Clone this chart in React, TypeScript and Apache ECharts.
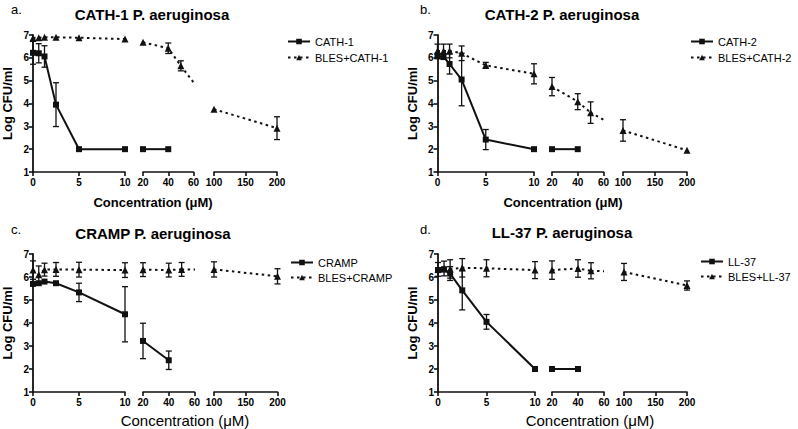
import React, { useEffect, useRef } from "react";
import * as echarts from "echarts";

const FONT = "Arial, 'Liberation Sans', Helvetica, sans-serif";
const INK = "#111";

// concentrations (µM)
const CONC = [0, 0.625, 1.25, 2.5, 5, 10, 20, 40, 50, 100, 200];

// x-axis segments of the broken axis
const SEG_MIN = [0, 20, 100];
const SEG_MAX = [10, 60, 200];
const SEG_INTERVAL = [5, 20, 50];

// y axis
const Y_MIN = 1;
const Y_MAX = 7;

// panel a
const cath1Mean = [6.22, 6.2, 6.06, 3.95, 2.0, 2.0, 2.0, 2.0, null, null, null];
const cath1Err = [0.5, 0.42, 0.47, 0.96, 0, 0, 0, 0, 0, 0, 0];
const blesCath1Mean = [6.87, 6.88, 6.9, 6.9, 6.88, 6.82, 6.68, 6.42, 5.65, 3.75, 2.92];
const blesCath1Err = [0, 0, 0, 0, 0, 0, 0, 0.23, 0.22, 0, 0.5];

// panel b
const cath2Mean = [6.08, 6.05, 5.73, 5.05, 2.42, 2.0, 2.0, 2.0, null, null, null];
const cath2Err = [0.12, 0.12, 0.44, 1.15, 0.44, 0, 0, 0, 0, 0, 0];
const blesCath2Mean = [6.3, 6.3, 6.3, 6.2, 5.67, 5.3, 4.74, 4.08, 3.6, 2.82, 1.95];
const blesCath2Err = [0.3, 0.3, 0.3, 0.32, 0.13, 0.44, 0.4, 0.35, 0.47, 0.47, 0];

// panel c
const crampMean = [5.7, 5.73, 5.8, 5.73, 5.33, 4.38, 3.22, 2.38, null, null, null];
const crampErr = [0, 0, 0, 0, 0.4, 1.2, 0.77, 0.4, 0, 0, 0];
const blesCrampMean = [6.3, 6.1, 6.32, 6.33, 6.32, 6.3, 6.32, 6.3, 6.33, 6.33, 6.03];
const blesCrampErr = [0.4, 0.38, 0.28, 0.3, 0.32, 0.32, 0.3, 0.3, 0.3, 0.33, 0.33];

// panel d
const ll37Mean = [6.3, 6.33, 6.15, 5.42, 4.05, 2.0, 2.0, 2.0, null, null, null];
const ll37Err = [0.1, 0.1, 0.3, 0.85, 0.32, 0, 0, 0, 0, 0, 0];
const blesLl37Mean = [6.33, 6.37, 6.35, 6.4, 6.38, 6.3, 6.3, 6.37, 6.27, 6.22, 5.63];
const blesLl37Err = [0.3, 0.32, 0.4, 0.4, 0.37, 0.37, 0.4, 0.38, 0.35, 0.37, 0.2];

const PANELS = [
  { letter: "a.", title: "CATH-1 P. aeruginosa", pep: "CATH-1", bles: "BLES+CATH-1", pMean: cath1Mean, pErr: cath1Err, bMean: blesCath1Mean, bErr: blesCath1Err },
  { letter: "b.", title: "CATH-2 P. aeruginosa", pep: "CATH-2", bles: "BLES+CATH-2", pMean: cath2Mean, pErr: cath2Err, bMean: blesCath2Mean, bErr: blesCath2Err },
  { letter: "c.", title: "CRAMP P. aeruginosa", pep: "CRAMP", bles: "BLES+CRAMP", pMean: crampMean, pErr: crampErr, bMean: blesCrampMean, bErr: blesCrampErr },
  { letter: "d.", title: "LL-37 P. aeruginosa", pep: "LL-37", bles: "BLES+LL-37", pMean: ll37Mean, pErr: ll37Err, bMean: blesLl37Mean, bErr: blesLl37Err },
];

// layout (pixels)
const LAYOUT = [
  { top: 35, bottom: 172, segs: [[30, 125], [143, 193.5], [214, 277]], titleX: 152, titleY: 14, letterX: 11, letterY: 9, legX: 287, legY: 36, legGap: 5, xnX: 153, xnY: 202, xnFont: "bold 13px " + FONT },
  { top: 35, bottom: 172, segs: [[437.5, 534], [552, 603.5], [623, 687]], titleX: 562, titleY: 14, letterX: 420, letterY: 9, legX: 690, legY: 36, legGap: 5, xnX: 563, xnY: 202, xnFont: "bold 13px " + FONT },
  { top: 254, bottom: 392, segs: [[30, 125], [143, 194.5], [214, 277.5]], titleX: 153, titleY: 233, letterX: 11, letterY: 229, legX: 290, legY: 257, legGap: 4, xnX: 185, xnY: 420, xnFont: "15px " + FONT },
  { top: 254, bottom: 392, segs: [[438, 535], [552, 604], [624, 687]], titleX: 562, titleY: 232, letterX: 420, letterY: 229, legX: 700, legY: 256, legGap: 4, xnX: 590, xnY: 420, xnFont: "15px " + FONT },
];

const DOT = [2.5, 3.5];

function segOf(x: number) {
  for (let s = 0; s < 3; s++) if (x >= SEG_MIN[s] && x <= SEG_MAX[s]) return s;
  return -1;
}

function buildOption() {
  const grid: any[] = [];
  const xAxis: any[] = [];
  const yAxis: any[] = [];
  const series: any[] = [];
  const legend: any[] = [];
  const graphic: any[] = [];

  PANELS.forEach((p, pi) => {
    const L = LAYOUT[pi];
    for (let s = 0; s < 3; s++) {
      const gi = pi * 3 + s;
      const [x0, x1] = L.segs[s];
      grid.push({ left: x0, top: L.top, width: x1 - x0, height: L.bottom - L.top });
      xAxis.push({
        type: "value", gridIndex: gi, min: SEG_MIN[s], max: SEG_MAX[s], interval: SEG_INTERVAL[s],
        axisLine: { show: true, onZero: false, lineStyle: { color: INK, width: 1.6 } },
        axisTick: { show: true, length: 4, lineStyle: { color: INK, width: 1.6 } },
        axisLabel: { color: "#000", fontFamily: FONT, fontWeight: "bold", fontSize: 10, margin: 5 },
        splitLine: { show: false },
      });
      yAxis.push({
        type: "value", gridIndex: gi, min: Y_MIN, max: Y_MAX, interval: 1, show: s === 0,
        name: s === 0 ? "Log CFU/ml" : "", nameLocation: "middle", nameGap: 19,
        nameTextStyle: { color: "#000", fontFamily: FONT, fontWeight: "bold", fontSize: 13 },
        axisLine: { show: true, lineStyle: { color: INK, width: 1.8 } },
        axisTick: { show: true, length: 4, lineStyle: { color: INK, width: 1.6 } },
        axisLabel: { color: "#000", fontFamily: FONT, fontWeight: "bold", fontSize: 10, margin: 4 },
        splitLine: { show: false },
      });
    }

    const groups = [
      { name: p.pep, mean: p.pMean, err: p.pErr, symbol: "rect", size: 6, dash: "solid" as any, z: 4 },
      { name: p.bles, mean: p.bMean, err: p.bErr, symbol: "triangle", size: 7, dash: DOT as any, z: 3 },
    ];

    groups.forEach((g) => {
      const pts: [number, number, number][] = [];
      CONC.forEach((c, i) => {
        const m = g.mean[i];
        if (m !== null && m !== undefined) pts.push([c, m as number, g.err[i]]);
      });
      for (let s = 0; s < 3; s++) {
        const gi = pi * 3 + s;
        const segPts = pts.filter((q) => segOf(q[0]) === s);
        if (!segPts.length) continue;
        series.push({
          type: "line", name: g.name, xAxisIndex: gi, yAxisIndex: gi,
          data: segPts.map((q) => [q[0], q[1]]),
          symbol: g.symbol, symbolSize: g.size, showSymbol: true, clip: false,
          lineStyle: { color: INK, width: 2, type: g.dash },
          itemStyle: { color: INK },
          z: g.z,
        });
        const errPts = segPts.filter((q) => q[2] > 0).map((q) => [q[0], q[1] - q[2], q[1] + q[2]]);
        if (errPts.length) {
          series.push({
            type: "custom", name: g.name + " SEM", xAxisIndex: gi, yAxisIndex: gi, clip: false, silent: true,
            encode: { x: 0, y: [1, 2] }, z: g.z,
            data: errPts,
            renderItem: (params: any, api: any) => {
              const x = api.value(0);
              const lo = api.coord([x, api.value(1)]);
              const hi = api.coord([x, api.value(2)]);
              const cw = 3;
              const st = { stroke: INK, lineWidth: 1.3 };
              return {
                type: "group",
                children: [
                  { type: "line", shape: { x1: lo[0], y1: lo[1], x2: hi[0], y2: hi[1] }, style: st },
                  { type: "line", shape: { x1: hi[0] - cw, y1: hi[1], x2: hi[0] + cw, y2: hi[1] }, style: st },
                  { type: "line", shape: { x1: lo[0] - cw, y1: lo[1], x2: lo[0] + cw, y2: lo[1] }, style: st },
                ],
              };
            },
          });
        }
        // connector toward the first point of the next segment, clipped at this segment's edge
        const last = segPts[segPts.length - 1];
        const next = pts.find((q) => segOf(q[0]) === s + 1);
        if (next && last[0] < SEG_MAX[s]) {
          const [nx0, nx1] = L.segs[s + 1];
          const nextPx = nx0 + ((next[0] - SEG_MIN[s + 1]) / (SEG_MAX[s + 1] - SEG_MIN[s + 1])) * (nx1 - nx0);
          series.push({
            type: "custom", name: g.name + " link", xAxisIndex: gi, yAxisIndex: gi, clip: true, silent: true,
            z: g.z, encode: { x: 0, y: 1 },
            data: [[last[0], last[1], next[1]]],
            renderItem: (params: any, api: any) => {
              const a = api.coord([api.value(0), api.value(1)]);
              const b = api.coord([api.value(0), api.value(2)]);
              return {
                type: "line",
                shape: { x1: a[0], y1: a[1], x2: nextPx, y2: b[1] },
                style: { stroke: INK, lineWidth: 2, lineDash: g.dash === "solid" ? null : DOT },
              };
            },
          });
        }
      }
    });

    legend.push({
      data: [p.pep, p.bles], orient: "vertical", left: L.legX, top: L.legY, padding: 0,
      itemWidth: 22, itemHeight: 7, itemGap: L.legGap,
      textStyle: { color: "#000", fontFamily: FONT, fontSize: 11 },
      selectedMode: false,
    });

    graphic.push(
      { type: "text", x: L.titleX, y: L.titleY, style: { text: p.title, font: "bold 15px " + FONT, fill: "#000", textAlign: "center", textVerticalAlign: "middle", align: "center", verticalAlign: "middle" } },
      { type: "text", x: L.letterX, y: L.letterY, style: { text: p.letter, font: "13px " + FONT, fill: "#000", textAlign: "left", textVerticalAlign: "middle", align: "left", verticalAlign: "middle" } },
      { type: "text", x: L.xnX, y: L.xnY, style: { text: "Concentration (\u03bcM)", font: L.xnFont, fill: "#000", textAlign: "center", textVerticalAlign: "middle", align: "center", verticalAlign: "middle" } }
    );
  });

  return {
    animation: false,
    backgroundColor: "#fff",
    grid, xAxis, yAxis, series, legend, graphic,
  };
}

export default function App() {
  const ref = useRef<HTMLDivElement>(null);
  useEffect(() => {
    if (!ref.current) return;
    const chart = echarts.init(ref.current, null, { renderer: "svg" });
    chart.setOption(buildOption() as any);
    return () => chart.dispose();
  }, []);
  return <div ref={ref} style={{ position: "fixed", left: 0, top: 0, width: 798, height: 429 }} />;
}
